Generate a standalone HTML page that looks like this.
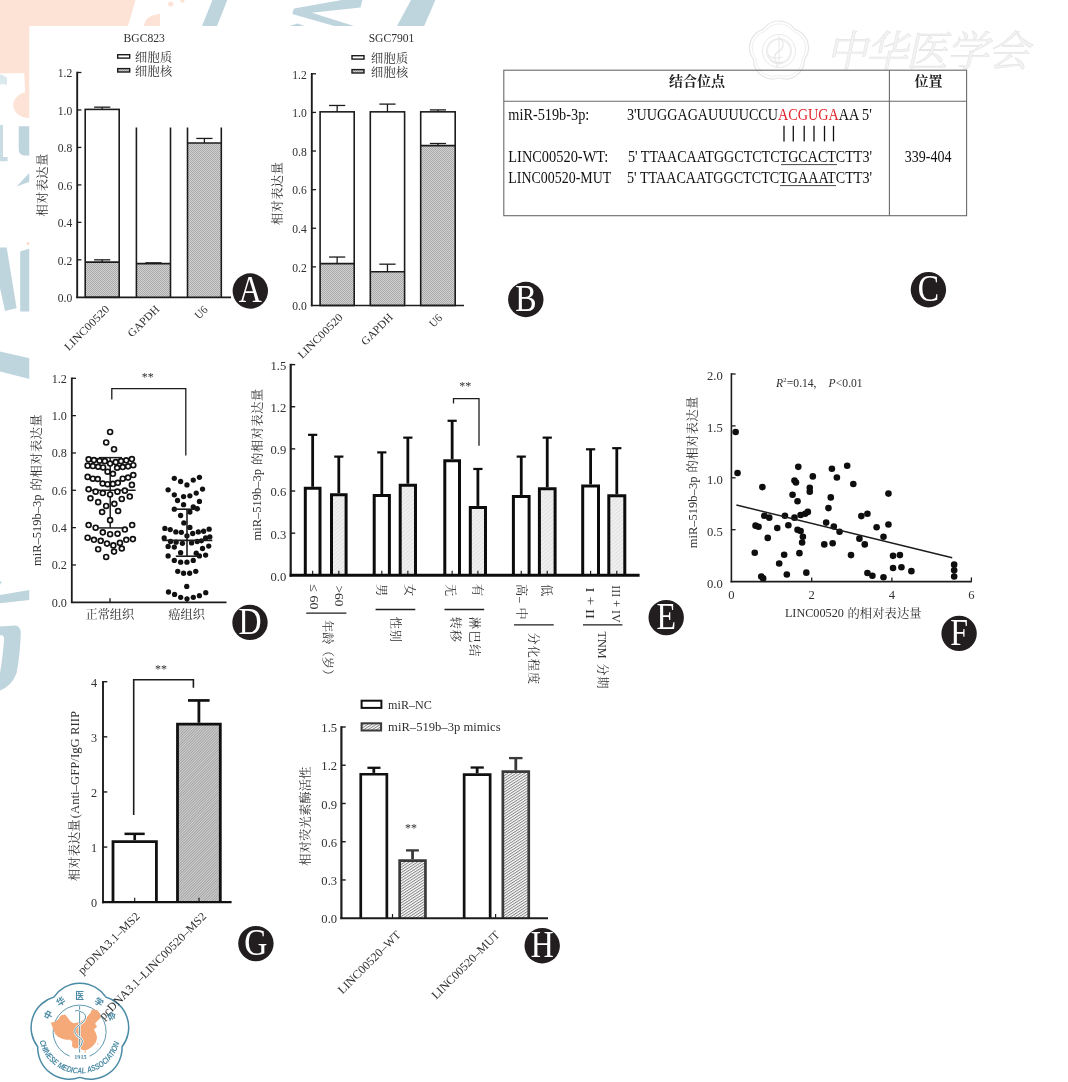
<!DOCTYPE html>
<html><head><meta charset="utf-8"><title>Figure</title>
<style>html,body{margin:0;padding:0;background:#fff;}svg{display:block;font-family:"Liberation Serif",serif;will-change:transform;}.cj{font-family:"Liberation Serif","Noto Serif CJK SC",serif;}.cjs{font-family:"Liberation Sans","Noto Sans CJK SC",sans-serif;}</style>
</head><body>
<svg width="1068" height="1082" viewBox="0 0 1068 1082">
<defs>
<pattern id="dots" width="2" height="2" patternUnits="userSpaceOnUse"><rect width="2" height="2" fill="#d2d2d2"/><rect width="1" height="1" fill="#a9a9a9"/><rect x="1" y="1" width="1" height="1" fill="#a9a9a9"/></pattern>
<pattern id="lhatch" width="3" height="3" patternUnits="userSpaceOnUse" patternTransform="rotate(-40)"><rect width="3" height="3" fill="#efefef"/><rect width="3" height="1" fill="#e2e2e2"/></pattern>
<pattern id="ghatch" width="1.9" height="1.9" patternUnits="userSpaceOnUse" patternTransform="rotate(-45)"><rect width="1.9" height="1.9" fill="#d0d0d0"/><rect width="1.9" height="0.9" fill="#a2a2a2"/></pattern>
<pattern id="hhatch" width="2.3" height="2.3" patternUnits="userSpaceOnUse" patternTransform="rotate(-33)"><rect width="2.3" height="2.3" fill="#fff"/><rect width="2.3" height="1" fill="#858585"/></pattern>
</defs>
<polygon points="0,0 135.6,0 128,26 29.5,26 29.5,92 25,92 24.3,73 0,73.6" fill="#fce3d5"/>
<path d="M29.5,91.4 C20,92 13.2,98 13.2,105 C13.2,112 20,118 29.5,118 Z" fill="#fce3d5"/>
<path d="M144,26 Q145,15 160,14 L160,26 Z" fill="#fce3d5"/>
<circle cx="170.8" cy="4" r="2.6" fill="#fce3d5"/>
<circle cx="182.4" cy="0.5" r="2.2" fill="#fce3d5"/>
<circle cx="28" cy="243.5" r="1.4" fill="#fbd9c5"/>
<polygon points="212.4,0 227.3,0 217,26 202,26" fill="#bfd5de"/>
<polygon points="341.8,0 362.4,0 360.5,7.5 311.8,12.7 354,26 334.3,26 292.2,14 294,8.4" fill="#bfd5de"/>
<polygon points="289.4,26 304.3,26 297.8,23.4" fill="#bfd5de"/>
<polygon points="411,0 435.4,0 424.2,26 397,26" fill="#bfd5de"/>
<path d="M0,74.5 Q5,75.5 7,78 L7,85 Q4,84 0,84.5 Z" fill="#dbe8ee"/>
<polygon points="0,125 3,125 3,157 7.6,157 7.6,161.2 0,161.2" fill="#c9dbe3"/>
<path d="M18.7,126.3 L29.5,126.3 L29.5,155.4 L24,155.4 Q18.7,155 18.7,149 Z" fill="#bfd5de"/>
<polygon points="29.5,172.7 29.5,181.8 16.6,186.6" fill="#bfd5de"/>
<polygon points="0,247.5 6.7,247.5 16.6,308.2 5,311 0,288" fill="#bfd5de"/>
<polygon points="20.2,251.5 29.5,248.5 29.5,311.5 20.2,311.5" fill="#bfd5de"/>
<polygon points="0,351.4 29.5,358.2 29.5,379 0,371.4" fill="#bfd5de"/>
<polygon points="0,595 29.5,590 29.5,600 0,603.3" fill="#bfd5de"/>
<polygon points="0,581 1.6,582 0,585" fill="#bfd5de"/>
<path d="M0,626.4 L15.8,625.6 Q21,627 20.8,634 Q20,655 16.6,673 Q12,686 0,690.4 L0,673 Q3,655 4,640 Q4.6,634.6 0,635.5 Z" fill="#bfd5de"/>
<rect x="29.5" y="26" width="1040" height="1060" fill="#fff"/>
<path d="M763.27,29.35 A19,19 0 0 1 794.73,29.35 A19,19 0 0 1 804.46,59.27 A19,19 0 0 1 779,77.77 A19,19 0 0 1 753.54,59.27 A19,19 0 0 1 763.27,29.35Z" fill="none" stroke="#e6e6e6" stroke-width="1.2"/>
<path d="M764.74,31.38 A17.2,17.2 0 0 1 793.26,31.38 A17.2,17.2 0 0 1 802.07,58.5 A17.2,17.2 0 0 1 779,75.25 A17.2,17.2 0 0 1 755.93,58.5 A17.2,17.2 0 0 1 764.74,31.38Z" fill="none" stroke="#eeeeee" stroke-width="1"/>
<circle cx="779" cy="51" r="16.5" fill="none" stroke="#e6e6e6" stroke-width="0.9"/>
<circle cx="779" cy="51" r="12" fill="none" stroke="#eeeeee" stroke-width="2.2"/>
<path d="M779,38 q5,2.5 4,8 q-1,4 -6,6.5 q-4,3.5 -1.5,8 q2.5,3 1,7" fill="none" stroke="#e6e6e6" stroke-width="1.1"/>
<line x1="779" y1="36" x2="779" y2="66" stroke="#e6e6e6" stroke-width="0.9"/>
<path d="M768,55 q6,5 14,2 M771,61 q5,4 12,2" fill="none" stroke="#e6e6e6" stroke-width="1"/>
<text class="cj" transform="translate(826,66) skewX(-12)" x="0" y="0" font-size="42" fill="#f3f3f3" stroke="#e4e4e4" stroke-width="0.6">中</text>
<text class="cj" transform="translate(866,66) skewX(-12)" x="0" y="0" font-size="42" fill="#f3f3f3" stroke="#e4e4e4" stroke-width="0.6">华</text>
<text class="cj" transform="translate(906,66) skewX(-12)" x="0" y="0" font-size="42" fill="#f3f3f3" stroke="#e4e4e4" stroke-width="0.6">医</text>
<text class="cj" transform="translate(947,66) skewX(-12)" x="0" y="0" font-size="42" fill="#f3f3f3" stroke="#e4e4e4" stroke-width="0.6">学</text>
<text class="cj" transform="translate(988,66) skewX(-12)" x="0" y="0" font-size="42" fill="#f3f3f3" stroke="#e4e4e4" stroke-width="0.6">会</text>
<path d="M53.83,997.12 A31.5,31.5 0 0 1 105.97,997.12 A31.5,31.5 0 0 1 122.08,1046.71 A31.5,31.5 0 0 1 79.9,1077.35 A31.5,31.5 0 0 1 37.72,1046.71 A31.5,31.5 0 0 1 53.83,997.12Z" fill="#fff" stroke="#4c8ba5" stroke-width="1.5"/>
<path d="M89.53,1056.17 A26.5,26.5 0 1 0 69.67,1056.17" fill="none" stroke="#4c8ba5" stroke-width="0.9"/>
<polygon points="50.75,1022.8 54.87,1021.77 58.99,1018.68 60.53,1015.59 65.17,1014.56 67.74,1017.65 70.32,1021.26 73.41,1023.32 78.56,1022.29 82.68,1020.23 86.8,1017.14 90.92,1011.99 91.95,1009.41 97.1,1009.93 100.19,1014.05 100.7,1017.65 97.1,1021.26 95.04,1023.83 97.1,1026.41 94.01,1029.5 96.07,1033.62 97.1,1037.74 96.07,1041.86 92.98,1045.98 88.86,1049.07 85.77,1050.61 82.68,1050.1 80.62,1049.07 77.53,1048.04 74.44,1048.55 71.86,1045.98 72.38,1041.86 70.32,1039.8 66.2,1039.8 62.08,1038.77 57.96,1036.71 54.87,1033.62 53.32,1029.5 52.29,1026.41" fill="#f6a978"/>
<circle cx="85.25" cy="1051.95" r="0.8" fill="#f6a978"/>
<circle cx="97.82" cy="1043.92" r="0.7" fill="#f6a978"/>
<line x1="79.6" y1="1005.8" x2="79.6" y2="1052.5" stroke="#fff" stroke-width="2.2"/>
<line x1="79.6" y1="1005.8" x2="79.6" y2="1052.5" stroke="#4c8ba5" stroke-width="0.9"/>
<path d="M80.1,1011.5 q-2,-2 -5,-0.5 M80.1,1011.5 q6,1.5 5.5,6.5 q-0.8,4 -6.5,7 q-5.5,3.5 -4,8 q1.5,3.5 5.5,5 q3.2,2.2 1.2,6 q-1.5,2.5 -2.8,4.5" fill="none" stroke="#fff" stroke-width="2"/>
<path d="M80.1,1011.5 q-2,-2 -5,-0.5 M80.1,1011.5 q6,1.5 5.5,6.5 q-0.8,4 -6.5,7 q-5.5,3.5 -4,8 q1.5,3.5 5.5,5 q3.2,2.2 1.2,6 q-1.5,2.5 -2.8,4.5" fill="none" stroke="#4c8ba5" stroke-width="0.9"/>
<text x="80.4" y="1058.6" font-size="6.2" fill="#4c8ba5" text-anchor="middle" font-weight="bold">1915</text>
<text class="cjs" transform="translate(48.17,1014.89) rotate(-62)" x="-4.4" y="3.3" font-size="8.8" font-weight="bold" fill="#4c8ba5">中</text>
<text class="cjs" transform="translate(60.73,1001.41) rotate(-32)" x="-4.4" y="3.3" font-size="8.8" font-weight="bold" fill="#4c8ba5">华</text>
<text class="cjs" transform="translate(79.6,996) rotate(0)" x="-4.4" y="3.3" font-size="8.8" font-weight="bold" fill="#4c8ba5">医</text>
<text class="cjs" transform="translate(98.99,1001.74) rotate(33)" x="-4.4" y="3.3" font-size="8.8" font-weight="bold" fill="#4c8ba5">学</text>
<text class="cjs" transform="translate(111.6,1015.99) rotate(64)" x="-4.4" y="3.3" font-size="8.8" font-weight="bold" fill="#4c8ba5">会</text>
<path id="lgarc" d="M39.5,1041.12 A41,41 0 0 0 119.55,1041.82" fill="none"/>
<text font-family="Liberation Sans" font-size="8.4" font-style="italic" font-weight="bold" fill="#4c8ba5" textLength="110" lengthAdjust="spacingAndGlyphs"><textPath href="#lgarc" startOffset="0">CHINESE  MEDICAL ASSOCIATION</textPath></text>
<rect x="85.2" y="262.08" width="34" height="35.22" fill="url(#dots)" stroke="none" stroke-width="0"/>
<rect x="85.2" y="109.4" width="34" height="187.9" fill="none" stroke="#1c1c1c" stroke-width="1.6"/>
<line x1="85.2" y1="262.08" x2="119.2" y2="262.08" stroke="#1c1c1c" stroke-width="1.6"/>
<line x1="102.2" y1="109.4" x2="102.2" y2="107.16" stroke="#1c1c1c" stroke-width="1.3"/>
<line x1="94.1" y1="107.16" x2="110.3" y2="107.16" stroke="#1c1c1c" stroke-width="1.3"/>
<line x1="102.2" y1="262.08" x2="102.2" y2="259.83" stroke="#1c1c1c" stroke-width="1.3"/>
<line x1="94.1" y1="259.83" x2="110.3" y2="259.83" stroke="#1c1c1c" stroke-width="1.3"/>
<rect x="136.4" y="263.58" width="34.1" height="33.72" fill="url(#dots)" stroke="none" stroke-width="0"/>
<line x1="136.4" y1="127.5" x2="136.4" y2="297.3" stroke="#1c1c1c" stroke-width="1.6"/>
<line x1="170.5" y1="127.5" x2="170.5" y2="297.3" stroke="#1c1c1c" stroke-width="1.6"/>
<line x1="136.4" y1="263.58" x2="170.5" y2="263.58" stroke="#1c1c1c" stroke-width="1.6"/>
<line x1="153.45" y1="263.58" x2="153.45" y2="262.83" stroke="#1c1c1c" stroke-width="1.3"/>
<line x1="145.35" y1="262.83" x2="161.55" y2="262.83" stroke="#1c1c1c" stroke-width="1.3"/>
<rect x="187.5" y="142.94" width="33.8" height="154.36" fill="url(#dots)" stroke="none" stroke-width="0"/>
<line x1="187.5" y1="127.5" x2="187.5" y2="297.3" stroke="#1c1c1c" stroke-width="1.6"/>
<line x1="221.3" y1="127.5" x2="221.3" y2="297.3" stroke="#1c1c1c" stroke-width="1.6"/>
<line x1="187.5" y1="142.94" x2="221.3" y2="142.94" stroke="#1c1c1c" stroke-width="1.6"/>
<line x1="204.4" y1="142.94" x2="204.4" y2="138.44" stroke="#1c1c1c" stroke-width="1.3"/>
<line x1="196.3" y1="138.44" x2="212.5" y2="138.44" stroke="#1c1c1c" stroke-width="1.3"/>
<line x1="77.2" y1="71.7" x2="77.2" y2="298.1" stroke="#1c1c1c" stroke-width="1.9"/>
<line x1="76.3" y1="297.3" x2="231" y2="297.3" stroke="#1c1c1c" stroke-width="1.7"/>
<line x1="77.2" y1="259.83" x2="81.4" y2="259.83" stroke="#1c1c1c" stroke-width="1.3"/>
<line x1="77.2" y1="222.37" x2="81.4" y2="222.37" stroke="#1c1c1c" stroke-width="1.3"/>
<line x1="77.2" y1="184.9" x2="81.4" y2="184.9" stroke="#1c1c1c" stroke-width="1.3"/>
<line x1="77.2" y1="147.43" x2="81.4" y2="147.43" stroke="#1c1c1c" stroke-width="1.3"/>
<line x1="77.2" y1="109.97" x2="81.4" y2="109.97" stroke="#1c1c1c" stroke-width="1.3"/>
<line x1="77.2" y1="72.5" x2="81.4" y2="72.5" stroke="#1c1c1c" stroke-width="1.3"/>
<text x="72.2" y="302" font-size="11.6" fill="#303030" text-anchor="end">0.0</text>
<text x="72.2" y="264.53" font-size="11.6" fill="#303030" text-anchor="end">0.2</text>
<text x="72.2" y="227.07" font-size="11.6" fill="#303030" text-anchor="end">0.4</text>
<text x="72.2" y="189.6" font-size="11.6" fill="#303030" text-anchor="end">0.6</text>
<text x="72.2" y="152.13" font-size="11.6" fill="#303030" text-anchor="end">0.8</text>
<text x="72.2" y="114.67" font-size="11.6" fill="#303030" text-anchor="end">1.0</text>
<text x="72.2" y="77.2" font-size="11.6" fill="#303030" text-anchor="end">1.2</text>
<text x="144.2" y="41.6" font-size="11.6" fill="#303030" text-anchor="middle">BGC823</text>
<rect x="117.7" y="54.7" width="12" height="3.4" fill="#fff" stroke="#1c1c1c" stroke-width="1.4"/>
<rect x="117.7" y="68.6" width="12" height="3.4" fill="url(#dots)" stroke="#1c1c1c" stroke-width="1.4"/>
<text class="cj" x="135" y="61.5" font-size="12.2" letter-spacing="0.3" fill="#303030">细胞质</text>
<text class="cj" x="135" y="75.9" font-size="12.2" letter-spacing="0.3" fill="#303030">细胞核</text>
<g transform="translate(47.2,216.5) rotate(-90)"><text class="cj" x="0" y="0" font-size="12.3" letter-spacing="0.3" fill="#303030">相对表达量</text></g>
<text x="0" y="0" transform="translate(110,309.8) rotate(-45)" font-size="11.2" fill="#303030" text-anchor="end" textLength="58.5" lengthAdjust="spacingAndGlyphs">LINC00520</text>
<text x="0" y="0" transform="translate(160,309.8) rotate(-45)" font-size="11.2" fill="#303030" text-anchor="end" textLength="39.5" lengthAdjust="spacingAndGlyphs">GAPDH</text>
<text x="0" y="0" transform="translate(208.5,310.3) rotate(-45)" font-size="11.2" fill="#303030" text-anchor="end" textLength="13.5" lengthAdjust="spacingAndGlyphs">U6</text>
<circle cx="250.3" cy="291" r="17.7" fill="#221e1f"/>
<text x="0" y="0" transform="translate(250.3,302.4) scale(0.83,1)" font-size="38.5" fill="#fff" text-anchor="middle">A</text>
<rect x="320.1" y="263.6" width="34.1" height="41.9" fill="url(#dots)" stroke="none" stroke-width="0"/>
<rect x="320.1" y="111.84" width="34.1" height="193.66" fill="none" stroke="#1c1c1c" stroke-width="1.6"/>
<line x1="320.1" y1="263.6" x2="354.2" y2="263.6" stroke="#1c1c1c" stroke-width="1.6"/>
<line x1="337.15" y1="111.84" x2="337.15" y2="105.47" stroke="#1c1c1c" stroke-width="1.3"/>
<line x1="329.05" y1="105.47" x2="345.25" y2="105.47" stroke="#1c1c1c" stroke-width="1.3"/>
<line x1="337.15" y1="263.6" x2="337.15" y2="257.04" stroke="#1c1c1c" stroke-width="1.3"/>
<line x1="329.05" y1="257.04" x2="345.25" y2="257.04" stroke="#1c1c1c" stroke-width="1.3"/>
<rect x="370.3" y="271.71" width="34.3" height="33.79" fill="url(#dots)" stroke="none" stroke-width="0"/>
<rect x="370.3" y="111.84" width="34.3" height="193.66" fill="none" stroke="#1c1c1c" stroke-width="1.6"/>
<line x1="370.3" y1="271.71" x2="404.6" y2="271.71" stroke="#1c1c1c" stroke-width="1.6"/>
<line x1="387.45" y1="111.84" x2="387.45" y2="104.11" stroke="#1c1c1c" stroke-width="1.3"/>
<line x1="379.35" y1="104.11" x2="395.55" y2="104.11" stroke="#1c1c1c" stroke-width="1.3"/>
<line x1="387.45" y1="271.71" x2="387.45" y2="264.18" stroke="#1c1c1c" stroke-width="1.3"/>
<line x1="379.35" y1="264.18" x2="395.55" y2="264.18" stroke="#1c1c1c" stroke-width="1.3"/>
<rect x="420.7" y="145.63" width="34.5" height="159.87" fill="url(#dots)" stroke="none" stroke-width="0"/>
<rect x="420.7" y="111.84" width="34.5" height="193.66" fill="none" stroke="#1c1c1c" stroke-width="1.6"/>
<line x1="420.7" y1="145.63" x2="455.2" y2="145.63" stroke="#1c1c1c" stroke-width="1.6"/>
<line x1="437.95" y1="111.84" x2="437.95" y2="109.91" stroke="#1c1c1c" stroke-width="1.3"/>
<line x1="429.85" y1="109.91" x2="446.05" y2="109.91" stroke="#1c1c1c" stroke-width="1.3"/>
<line x1="437.95" y1="145.63" x2="437.95" y2="143.5" stroke="#1c1c1c" stroke-width="1.3"/>
<line x1="429.85" y1="143.5" x2="446.05" y2="143.5" stroke="#1c1c1c" stroke-width="1.3"/>
<line x1="311.8" y1="73" x2="311.8" y2="306.3" stroke="#1c1c1c" stroke-width="1.9"/>
<line x1="310.9" y1="305.5" x2="464" y2="305.5" stroke="#1c1c1c" stroke-width="1.7"/>
<line x1="311.8" y1="266.88" x2="316" y2="266.88" stroke="#1c1c1c" stroke-width="1.3"/>
<line x1="311.8" y1="228.27" x2="316" y2="228.27" stroke="#1c1c1c" stroke-width="1.3"/>
<line x1="311.8" y1="189.65" x2="316" y2="189.65" stroke="#1c1c1c" stroke-width="1.3"/>
<line x1="311.8" y1="151.03" x2="316" y2="151.03" stroke="#1c1c1c" stroke-width="1.3"/>
<line x1="311.8" y1="112.42" x2="316" y2="112.42" stroke="#1c1c1c" stroke-width="1.3"/>
<line x1="311.8" y1="73.8" x2="316" y2="73.8" stroke="#1c1c1c" stroke-width="1.3"/>
<text x="306.8" y="310.2" font-size="11.6" fill="#303030" text-anchor="end">0.0</text>
<text x="306.8" y="271.58" font-size="11.6" fill="#303030" text-anchor="end">0.2</text>
<text x="306.8" y="232.97" font-size="11.6" fill="#303030" text-anchor="end">0.4</text>
<text x="306.8" y="194.35" font-size="11.6" fill="#303030" text-anchor="end">0.6</text>
<text x="306.8" y="155.73" font-size="11.6" fill="#303030" text-anchor="end">0.8</text>
<text x="306.8" y="117.12" font-size="11.6" fill="#303030" text-anchor="end">1.0</text>
<text x="306.8" y="78.5" font-size="11.6" fill="#303030" text-anchor="end">1.2</text>
<text x="391.5" y="41.6" font-size="11.6" fill="#303030" text-anchor="middle">SGC7901</text>
<rect x="352" y="55.7" width="12" height="3.4" fill="#fff" stroke="#1c1c1c" stroke-width="1.4"/>
<rect x="352" y="69.6" width="12" height="3.4" fill="url(#dots)" stroke="#1c1c1c" stroke-width="1.4"/>
<text class="cj" x="371" y="62.5" font-size="12.2" letter-spacing="0.3" fill="#303030">细胞质</text>
<text class="cj" x="371" y="76.9" font-size="12.2" letter-spacing="0.3" fill="#303030">细胞核</text>
<g transform="translate(282.2,225) rotate(-90)"><text class="cj" x="0" y="0" font-size="12.3" letter-spacing="0.3" fill="#303030">相对表达量</text></g>
<text x="0" y="0" transform="translate(343.5,318) rotate(-45)" font-size="11.2" fill="#303030" text-anchor="end" textLength="58.5" lengthAdjust="spacingAndGlyphs">LINC00520</text>
<text x="0" y="0" transform="translate(393.5,318) rotate(-45)" font-size="11.2" fill="#303030" text-anchor="end" textLength="39.5" lengthAdjust="spacingAndGlyphs">GAPDH</text>
<text x="0" y="0" transform="translate(443,318.5) rotate(-45)" font-size="11.2" fill="#303030" text-anchor="end" textLength="13.5" lengthAdjust="spacingAndGlyphs">U6</text>
<circle cx="525.8" cy="299.5" r="17.7" fill="#221e1f"/>
<text x="0" y="0" transform="translate(525.8,310.9) scale(0.83,1)" font-size="38.5" fill="#fff" text-anchor="middle">B</text>
<rect x="503.8" y="70.2" width="462.8" height="145.5" fill="none" stroke="#6a6a6a" stroke-width="1.1"/>
<line x1="503.8" y1="101.3" x2="966.6" y2="101.3" stroke="#6a6a6a" stroke-width="1.1"/>
<line x1="889.4" y1="70.2" x2="889.4" y2="215.7" stroke="#6a6a6a" stroke-width="1.1"/>
<text class="cj" x="668.9" y="86" font-size="14" font-weight="bold" fill="#222">结合位点</text>
<text class="cj" x="914.5" y="86" font-size="14" font-weight="bold" fill="#222">位置</text>
<text x="508.3" y="119.5" font-size="16.6" fill="#111" textLength="81" lengthAdjust="spacingAndGlyphs">miR-519b-3p:</text>
<text x="508.3" y="162.1" font-size="16.6" fill="#111" textLength="100" lengthAdjust="spacingAndGlyphs">LINC00520-WT:</text>
<text x="508.3" y="182.8" font-size="16.6" fill="#111" textLength="103" lengthAdjust="spacingAndGlyphs">LINC00520-MUT</text>
<text x="627" y="119.5" font-size="16.6" fill="#111" textLength="151" lengthAdjust="spacingAndGlyphs">3'UUGGAGAUUUUCCU</text>
<text x="778" y="119.5" font-size="16.6" fill="#e0242b" textLength="60.8" lengthAdjust="spacingAndGlyphs">ACGUGA</text>
<text x="838.8" y="119.5" font-size="16.6" fill="#111" textLength="33" lengthAdjust="spacingAndGlyphs">AA 5'</text>
<text x="628" y="162.1" font-size="16.6" fill="#111" textLength="244" lengthAdjust="spacingAndGlyphs">5' TTAACAATGGCTCTCTGCACTCTT3'</text>
<text x="627" y="182.8" font-size="16.6" fill="#111" textLength="245" lengthAdjust="spacingAndGlyphs">5' TTAACAATGGCTCTCTGAAATCTT3'</text>
<line x1="784" y1="125.8" x2="784" y2="141.4" stroke="#111" stroke-width="1.3"/>
<line x1="793.3" y1="125.8" x2="793.3" y2="141.4" stroke="#111" stroke-width="1.3"/>
<line x1="804.2" y1="125.8" x2="804.2" y2="141.4" stroke="#111" stroke-width="1.3"/>
<line x1="814" y1="125.8" x2="814" y2="141.4" stroke="#111" stroke-width="1.3"/>
<line x1="824.5" y1="125.8" x2="824.5" y2="141.4" stroke="#111" stroke-width="1.3"/>
<line x1="833.5" y1="125.8" x2="833.5" y2="141.4" stroke="#111" stroke-width="1.3"/>
<line x1="781" y1="164.6" x2="837" y2="164.6" stroke="#333" stroke-width="0.9"/>
<line x1="780" y1="185.6" x2="836" y2="185.6" stroke="#333" stroke-width="0.9"/>
<text x="904.8" y="162.1" font-size="16.6" fill="#111" textLength="46.7" lengthAdjust="spacingAndGlyphs">339-404</text>
<circle cx="928.4" cy="289.7" r="17.7" fill="#221e1f"/>
<text x="0" y="0" transform="translate(928.4,301.1) scale(0.83,1)" font-size="38.5" fill="#fff" text-anchor="middle">C</text>
<line x1="110.2" y1="457.63" x2="110.2" y2="527.63" stroke="#1c1c1c" stroke-width="1.5"/>
<line x1="85.7" y1="490.3" x2="135.6" y2="490.3" stroke="#1c1c1c" stroke-width="1.5"/>
<line x1="99" y1="527.93" x2="122" y2="527.93" stroke="#1c1c1c" stroke-width="1.5"/>
<line x1="99" y1="457.63" x2="122" y2="457.63" stroke="#1c1c1c" stroke-width="1.5"/>
<circle cx="110.11" cy="431.94" r="2.45" fill="#fff" stroke="#111" stroke-width="1.7"/>
<circle cx="106.18" cy="442.47" r="2.45" fill="#fff" stroke="#111" stroke-width="1.7"/>
<circle cx="114.04" cy="449.21" r="2.45" fill="#fff" stroke="#111" stroke-width="1.7"/>
<circle cx="88.62" cy="459.33" r="2.45" fill="#fff" stroke="#111" stroke-width="1.7"/>
<circle cx="93.96" cy="460.03" r="2.45" fill="#fff" stroke="#111" stroke-width="1.7"/>
<circle cx="99.58" cy="460.73" r="2.45" fill="#fff" stroke="#111" stroke-width="1.7"/>
<circle cx="104.78" cy="461.15" r="2.45" fill="#fff" stroke="#111" stroke-width="1.7"/>
<circle cx="110.11" cy="463.54" r="2.45" fill="#fff" stroke="#111" stroke-width="1.7"/>
<circle cx="115.73" cy="462.13" r="2.45" fill="#fff" stroke="#111" stroke-width="1.7"/>
<circle cx="121.07" cy="461.15" r="2.45" fill="#fff" stroke="#111" stroke-width="1.7"/>
<circle cx="126.26" cy="460.31" r="2.45" fill="#fff" stroke="#111" stroke-width="1.7"/>
<circle cx="131.88" cy="459.04" r="2.45" fill="#fff" stroke="#111" stroke-width="1.7"/>
<circle cx="87.64" cy="465.65" r="2.45" fill="#fff" stroke="#111" stroke-width="1.7"/>
<circle cx="92.84" cy="466.07" r="2.45" fill="#fff" stroke="#111" stroke-width="1.7"/>
<circle cx="98.17" cy="466.77" r="2.45" fill="#fff" stroke="#111" stroke-width="1.7"/>
<circle cx="103.09" cy="467.47" r="2.45" fill="#fff" stroke="#111" stroke-width="1.7"/>
<circle cx="117.13" cy="467.75" r="2.45" fill="#fff" stroke="#111" stroke-width="1.7"/>
<circle cx="122.75" cy="467.05" r="2.45" fill="#fff" stroke="#111" stroke-width="1.7"/>
<circle cx="128.09" cy="466.35" r="2.45" fill="#fff" stroke="#111" stroke-width="1.7"/>
<circle cx="133.29" cy="465.22" r="2.45" fill="#fff" stroke="#111" stroke-width="1.7"/>
<circle cx="107.58" cy="471.69" r="2.45" fill="#fff" stroke="#111" stroke-width="1.7"/>
<circle cx="112.92" cy="473.79" r="2.45" fill="#fff" stroke="#111" stroke-width="1.7"/>
<circle cx="87.64" cy="476.88" r="2.45" fill="#fff" stroke="#111" stroke-width="1.7"/>
<circle cx="92.84" cy="478.71" r="2.45" fill="#fff" stroke="#111" stroke-width="1.7"/>
<circle cx="97.75" cy="478.99" r="2.45" fill="#fff" stroke="#111" stroke-width="1.7"/>
<circle cx="102.67" cy="483.48" r="2.45" fill="#fff" stroke="#111" stroke-width="1.7"/>
<circle cx="107.58" cy="484.19" r="2.45" fill="#fff" stroke="#111" stroke-width="1.7"/>
<circle cx="112.92" cy="483.9" r="2.45" fill="#fff" stroke="#111" stroke-width="1.7"/>
<circle cx="117.84" cy="482.78" r="2.45" fill="#fff" stroke="#111" stroke-width="1.7"/>
<circle cx="122.75" cy="478.71" r="2.45" fill="#fff" stroke="#111" stroke-width="1.7"/>
<circle cx="128.09" cy="477.58" r="2.45" fill="#fff" stroke="#111" stroke-width="1.7"/>
<circle cx="133.29" cy="475.06" r="2.45" fill="#fff" stroke="#111" stroke-width="1.7"/>
<circle cx="131.88" cy="484.89" r="2.45" fill="#fff" stroke="#111" stroke-width="1.7"/>
<circle cx="88.62" cy="489.24" r="2.45" fill="#fff" stroke="#111" stroke-width="1.7"/>
<circle cx="95.65" cy="491.63" r="2.45" fill="#fff" stroke="#111" stroke-width="1.7"/>
<circle cx="102.81" cy="493.03" r="2.45" fill="#fff" stroke="#111" stroke-width="1.7"/>
<circle cx="110.11" cy="494.44" r="2.45" fill="#fff" stroke="#111" stroke-width="1.7"/>
<circle cx="117.42" cy="491.63" r="2.45" fill="#fff" stroke="#111" stroke-width="1.7"/>
<circle cx="124.86" cy="490.65" r="2.45" fill="#fff" stroke="#111" stroke-width="1.7"/>
<circle cx="90.45" cy="498.23" r="2.45" fill="#fff" stroke="#111" stroke-width="1.7"/>
<circle cx="98.17" cy="502.16" r="2.45" fill="#fff" stroke="#111" stroke-width="1.7"/>
<circle cx="106.18" cy="505.96" r="2.45" fill="#fff" stroke="#111" stroke-width="1.7"/>
<circle cx="114.33" cy="503.85" r="2.45" fill="#fff" stroke="#111" stroke-width="1.7"/>
<circle cx="121.77" cy="498.93" r="2.45" fill="#fff" stroke="#111" stroke-width="1.7"/>
<circle cx="129.78" cy="496.54" r="2.45" fill="#fff" stroke="#111" stroke-width="1.7"/>
<circle cx="102.11" cy="511.99" r="2.45" fill="#fff" stroke="#111" stroke-width="1.7"/>
<circle cx="118.12" cy="511.01" r="2.45" fill="#fff" stroke="#111" stroke-width="1.7"/>
<circle cx="110.11" cy="520.14" r="2.45" fill="#fff" stroke="#111" stroke-width="1.7"/>
<circle cx="88.62" cy="525.06" r="2.45" fill="#fff" stroke="#111" stroke-width="1.7"/>
<circle cx="95.65" cy="527.72" r="2.45" fill="#fff" stroke="#111" stroke-width="1.7"/>
<circle cx="124.86" cy="529.55" r="2.45" fill="#fff" stroke="#111" stroke-width="1.7"/>
<circle cx="132.16" cy="525.06" r="2.45" fill="#fff" stroke="#111" stroke-width="1.7"/>
<circle cx="102.81" cy="532.36" r="2.45" fill="#fff" stroke="#111" stroke-width="1.7"/>
<circle cx="110.11" cy="534.19" r="2.45" fill="#fff" stroke="#111" stroke-width="1.7"/>
<circle cx="117.56" cy="533.76" r="2.45" fill="#fff" stroke="#111" stroke-width="1.7"/>
<circle cx="87.64" cy="537.7" r="2.45" fill="#fff" stroke="#111" stroke-width="1.7"/>
<circle cx="93.96" cy="539.8" r="2.45" fill="#fff" stroke="#111" stroke-width="1.7"/>
<circle cx="100.7" cy="540.79" r="2.45" fill="#fff" stroke="#111" stroke-width="1.7"/>
<circle cx="107.02" cy="543.6" r="2.45" fill="#fff" stroke="#111" stroke-width="1.7"/>
<circle cx="113.34" cy="545.42" r="2.45" fill="#fff" stroke="#111" stroke-width="1.7"/>
<circle cx="119.94" cy="542.89" r="2.45" fill="#fff" stroke="#111" stroke-width="1.7"/>
<circle cx="126.26" cy="539.8" r="2.45" fill="#fff" stroke="#111" stroke-width="1.7"/>
<circle cx="132.87" cy="539.1" r="2.45" fill="#fff" stroke="#111" stroke-width="1.7"/>
<circle cx="98.17" cy="549.21" r="2.45" fill="#fff" stroke="#111" stroke-width="1.7"/>
<circle cx="114.04" cy="551.6" r="2.45" fill="#fff" stroke="#111" stroke-width="1.7"/>
<circle cx="121.77" cy="548.51" r="2.45" fill="#fff" stroke="#111" stroke-width="1.7"/>
<circle cx="106.18" cy="556.94" r="2.45" fill="#fff" stroke="#111" stroke-width="1.7"/>
<circle cx="174.3" cy="478.29" r="2.65" fill="#111"/>
<circle cx="180.62" cy="481.52" r="2.65" fill="#111"/>
<circle cx="186.94" cy="484.89" r="2.65" fill="#111"/>
<circle cx="193.26" cy="480.11" r="2.65" fill="#111"/>
<circle cx="199.44" cy="477.3" r="2.65" fill="#111"/>
<circle cx="168.12" cy="489.8" r="2.65" fill="#111"/>
<circle cx="202.53" cy="489.1" r="2.65" fill="#111"/>
<circle cx="174.3" cy="494.86" r="2.65" fill="#111"/>
<circle cx="183.57" cy="496.54" r="2.65" fill="#111"/>
<circle cx="189.89" cy="495.84" r="2.65" fill="#111"/>
<circle cx="196.21" cy="493.03" r="2.65" fill="#111"/>
<circle cx="177.53" cy="500.48" r="2.65" fill="#111"/>
<circle cx="199.44" cy="501.46" r="2.65" fill="#111"/>
<circle cx="183.57" cy="504.69" r="2.65" fill="#111"/>
<circle cx="174.3" cy="509.19" r="2.65" fill="#111"/>
<circle cx="193.26" cy="506.8" r="2.65" fill="#111"/>
<circle cx="197.19" cy="508.76" r="2.65" fill="#111"/>
<circle cx="189.89" cy="511.99" r="2.65" fill="#111"/>
<circle cx="180.62" cy="515.51" r="2.65" fill="#111"/>
<circle cx="183.85" cy="522.95" r="2.65" fill="#111"/>
<circle cx="189.89" cy="527.44" r="2.65" fill="#111"/>
<circle cx="164.89" cy="528.43" r="2.65" fill="#111"/>
<circle cx="170.22" cy="529.55" r="2.65" fill="#111"/>
<circle cx="175.84" cy="531.94" r="2.65" fill="#111"/>
<circle cx="181.32" cy="532.36" r="2.65" fill="#111"/>
<circle cx="192.7" cy="533.48" r="2.65" fill="#111"/>
<circle cx="198.31" cy="531.94" r="2.65" fill="#111"/>
<circle cx="203.65" cy="531.24" r="2.65" fill="#111"/>
<circle cx="209.13" cy="529.13" r="2.65" fill="#111"/>
<circle cx="186.94" cy="535.87" r="2.65" fill="#111"/>
<circle cx="164.19" cy="537.98" r="2.65" fill="#111"/>
<circle cx="209.83" cy="536.85" r="2.65" fill="#111"/>
<circle cx="205.62" cy="537.98" r="2.65" fill="#111"/>
<circle cx="170.51" cy="541.49" r="2.65" fill="#111"/>
<circle cx="176.12" cy="542.19" r="2.65" fill="#111"/>
<circle cx="182.44" cy="543.31" r="2.65" fill="#111"/>
<circle cx="191.57" cy="542.89" r="2.65" fill="#111"/>
<circle cx="197.19" cy="541.49" r="2.65" fill="#111"/>
<circle cx="201.4" cy="540.79" r="2.65" fill="#111"/>
<circle cx="168.12" cy="546.4" r="2.65" fill="#111"/>
<circle cx="174.3" cy="547.11" r="2.65" fill="#111"/>
<circle cx="202.53" cy="548.51" r="2.65" fill="#111"/>
<circle cx="208.71" cy="546.12" r="2.65" fill="#111"/>
<circle cx="168.12" cy="555.96" r="2.65" fill="#111"/>
<circle cx="180.62" cy="552.72" r="2.65" fill="#111"/>
<circle cx="196.21" cy="553.15" r="2.65" fill="#111"/>
<circle cx="199.44" cy="555.96" r="2.65" fill="#111"/>
<circle cx="205.62" cy="555.11" r="2.65" fill="#111"/>
<circle cx="174.3" cy="560.45" r="2.65" fill="#111"/>
<circle cx="180.62" cy="562.13" r="2.65" fill="#111"/>
<circle cx="186.94" cy="562.13" r="2.65" fill="#111"/>
<circle cx="193.26" cy="560.45" r="2.65" fill="#111"/>
<circle cx="177.74" cy="571.29" r="2.65" fill="#111"/>
<circle cx="183.58" cy="573.23" r="2.65" fill="#111"/>
<circle cx="189.67" cy="573.23" r="2.65" fill="#111"/>
<circle cx="195.75" cy="571.29" r="2.65" fill="#111"/>
<circle cx="186.75" cy="586.38" r="2.65" fill="#111"/>
<circle cx="168.49" cy="591.98" r="2.65" fill="#111"/>
<circle cx="174.58" cy="594.41" r="2.65" fill="#111"/>
<circle cx="180.66" cy="597.33" r="2.65" fill="#111"/>
<circle cx="186.99" cy="598.79" r="2.65" fill="#111"/>
<circle cx="193.32" cy="597.33" r="2.65" fill="#111"/>
<circle cx="199.41" cy="595.63" r="2.65" fill="#111"/>
<circle cx="205.74" cy="592.71" r="2.65" fill="#111"/>
<line x1="187" y1="509.2" x2="187" y2="556.2" stroke="#1c1c1c" stroke-width="1.6"/>
<line x1="162.4" y1="540.4" x2="212.3" y2="540.4" stroke="#1c1c1c" stroke-width="1.6"/>
<line x1="172.9" y1="509.2" x2="200.1" y2="509.2" stroke="#1c1c1c" stroke-width="1.6"/>
<line x1="175.8" y1="556.2" x2="199" y2="556.2" stroke="#1c1c1c" stroke-width="1.6"/>
<line x1="71.8" y1="377.5" x2="71.8" y2="603.1" stroke="#1c1c1c" stroke-width="1.8"/>
<line x1="70.9" y1="602.3" x2="226.5" y2="602.3" stroke="#1c1c1c" stroke-width="1.7"/>
<line x1="71.8" y1="564.97" x2="76" y2="564.97" stroke="#1c1c1c" stroke-width="1.3"/>
<line x1="71.8" y1="527.63" x2="76" y2="527.63" stroke="#1c1c1c" stroke-width="1.3"/>
<line x1="71.8" y1="490.3" x2="76" y2="490.3" stroke="#1c1c1c" stroke-width="1.3"/>
<line x1="71.8" y1="452.97" x2="76" y2="452.97" stroke="#1c1c1c" stroke-width="1.3"/>
<line x1="71.8" y1="415.63" x2="76" y2="415.63" stroke="#1c1c1c" stroke-width="1.3"/>
<line x1="71.8" y1="378.3" x2="76" y2="378.3" stroke="#1c1c1c" stroke-width="1.3"/>
<line x1="110" y1="602.3" x2="110" y2="598.3" stroke="#1c1c1c" stroke-width="1.3"/>
<line x1="187" y1="602.3" x2="187" y2="598.3" stroke="#1c1c1c" stroke-width="1.3"/>
<text x="66.9" y="606.8" font-size="12.2" fill="#303030" text-anchor="end">0.0</text>
<text x="66.9" y="569.47" font-size="12.2" fill="#303030" text-anchor="end">0.2</text>
<text x="66.9" y="532.13" font-size="12.2" fill="#303030" text-anchor="end">0.4</text>
<text x="66.9" y="494.8" font-size="12.2" fill="#303030" text-anchor="end">0.6</text>
<text x="66.9" y="457.47" font-size="12.2" fill="#303030" text-anchor="end">0.8</text>
<text x="66.9" y="420.13" font-size="12.2" fill="#303030" text-anchor="end">1.0</text>
<text x="66.9" y="382.8" font-size="12.2" fill="#303030" text-anchor="end">1.2</text>
<path d="M111.8,399.4 L111.8,388.7 L185.8,388.7 L185.8,455.4" fill="none" stroke="#1c1c1c" stroke-width="1.3"/>
<text x="147.8" y="380.5" font-size="12" fill="#303030" text-anchor="middle">**</text>
<text class="cj" x="85.5" y="618.8" font-size="12.2" fill="#303030">正常组织</text>
<text class="cj" x="168.3" y="618.8" font-size="12.2" fill="#303030">癌组织</text>
<g transform="translate(40.6,566) rotate(-90)">
<text x="0" y="0" font-size="12.5" fill="#303030" textLength="71.6" lengthAdjust="spacingAndGlyphs">miR–519b–3p</text>
<text class="cj" x="75.6" y="0.5" font-size="12.4" letter-spacing="0.35" fill="#303030">的相对表达量</text>
</g>
<circle cx="250" cy="622.4" r="17.7" fill="#221e1f"/>
<text x="0" y="0" transform="translate(250,633.8) scale(0.83,1)" font-size="38.5" fill="#fff" text-anchor="middle">D</text>
<rect x="305.3" y="488.31" width="14.7" height="86.99" fill="#fff"/>
<path d="M305.3,575.3 L305.3,488.31 L320,488.31 L320,575.3" fill="none" stroke="#0c0c0c" stroke-width="3"/>
<line x1="312.65" y1="486.81" x2="312.65" y2="434.83" stroke="#0c0c0c" stroke-width="2.8"/>
<line x1="308.05" y1="434.83" x2="317.25" y2="434.83" stroke="#0c0c0c" stroke-width="2.2"/>
<line x1="312.65" y1="575.3" x2="312.65" y2="570.8" stroke="#1c1c1c" stroke-width="1.2"/>
<rect x="331.5" y="494.63" width="14.6" height="80.67" fill="url(#lhatch)"/>
<path d="M331.5,575.3 L331.5,494.63 L346.1,494.63 L346.1,575.3" fill="none" stroke="#0c0c0c" stroke-width="3"/>
<line x1="338.8" y1="493.13" x2="338.8" y2="456.61" stroke="#0c0c0c" stroke-width="2.8"/>
<line x1="334.2" y1="456.61" x2="343.4" y2="456.61" stroke="#0c0c0c" stroke-width="2.2"/>
<line x1="338.8" y1="575.3" x2="338.8" y2="570.8" stroke="#1c1c1c" stroke-width="1.2"/>
<rect x="374.2" y="495.61" width="15.2" height="79.69" fill="#fff"/>
<path d="M374.2,575.3 L374.2,495.61 L389.4,495.61 L389.4,575.3" fill="none" stroke="#0c0c0c" stroke-width="3"/>
<line x1="381.8" y1="494.11" x2="381.8" y2="452.39" stroke="#0c0c0c" stroke-width="2.8"/>
<line x1="377.2" y1="452.39" x2="386.4" y2="452.39" stroke="#0c0c0c" stroke-width="2.2"/>
<line x1="381.8" y1="575.3" x2="381.8" y2="570.8" stroke="#1c1c1c" stroke-width="1.2"/>
<rect x="400.2" y="485.22" width="15.3" height="90.08" fill="url(#lhatch)"/>
<path d="M400.2,575.3 L400.2,485.22 L415.5,485.22 L415.5,575.3" fill="none" stroke="#0c0c0c" stroke-width="3"/>
<line x1="407.85" y1="483.72" x2="407.85" y2="437.64" stroke="#0c0c0c" stroke-width="2.8"/>
<line x1="403.25" y1="437.64" x2="412.45" y2="437.64" stroke="#0c0c0c" stroke-width="2.2"/>
<line x1="407.85" y1="575.3" x2="407.85" y2="570.8" stroke="#1c1c1c" stroke-width="1.2"/>
<rect x="444.8" y="460.63" width="14.7" height="114.67" fill="#fff"/>
<path d="M444.8,575.3 L444.8,460.63 L459.5,460.63 L459.5,575.3" fill="none" stroke="#0c0c0c" stroke-width="3"/>
<line x1="452.15" y1="459.13" x2="452.15" y2="420.79" stroke="#0c0c0c" stroke-width="2.8"/>
<line x1="447.55" y1="420.79" x2="456.75" y2="420.79" stroke="#0c0c0c" stroke-width="2.2"/>
<line x1="452.15" y1="575.3" x2="452.15" y2="570.8" stroke="#1c1c1c" stroke-width="1.2"/>
<rect x="470.3" y="507.41" width="15.2" height="67.89" fill="url(#lhatch)"/>
<path d="M470.3,575.3 L470.3,507.41 L485.5,507.41 L485.5,575.3" fill="none" stroke="#0c0c0c" stroke-width="3"/>
<line x1="477.9" y1="505.91" x2="477.9" y2="468.97" stroke="#0c0c0c" stroke-width="2.8"/>
<line x1="473.3" y1="468.97" x2="482.5" y2="468.97" stroke="#0c0c0c" stroke-width="2.2"/>
<line x1="477.9" y1="575.3" x2="477.9" y2="570.8" stroke="#1c1c1c" stroke-width="1.2"/>
<rect x="513.4" y="496.45" width="15.7" height="78.85" fill="#fff"/>
<path d="M513.4,575.3 L513.4,496.45 L529.1,496.45 L529.1,575.3" fill="none" stroke="#0c0c0c" stroke-width="3"/>
<line x1="521.25" y1="494.95" x2="521.25" y2="456.61" stroke="#0c0c0c" stroke-width="2.8"/>
<line x1="516.65" y1="456.61" x2="525.85" y2="456.61" stroke="#0c0c0c" stroke-width="2.2"/>
<line x1="521.25" y1="575.3" x2="521.25" y2="570.8" stroke="#1c1c1c" stroke-width="1.2"/>
<rect x="539.4" y="488.73" width="15.7" height="86.57" fill="url(#lhatch)"/>
<path d="M539.4,575.3 L539.4,488.73 L555.1,488.73 L555.1,575.3" fill="none" stroke="#0c0c0c" stroke-width="3"/>
<line x1="547.25" y1="487.23" x2="547.25" y2="437.64" stroke="#0c0c0c" stroke-width="2.8"/>
<line x1="542.65" y1="437.64" x2="551.85" y2="437.64" stroke="#0c0c0c" stroke-width="2.2"/>
<line x1="547.25" y1="575.3" x2="547.25" y2="570.8" stroke="#1c1c1c" stroke-width="1.2"/>
<rect x="582.7" y="485.92" width="15.8" height="89.38" fill="#fff"/>
<path d="M582.7,575.3 L582.7,485.92 L598.5,485.92 L598.5,575.3" fill="none" stroke="#0c0c0c" stroke-width="3"/>
<line x1="590.6" y1="484.42" x2="590.6" y2="449.3" stroke="#0c0c0c" stroke-width="2.8"/>
<line x1="586" y1="449.3" x2="595.2" y2="449.3" stroke="#0c0c0c" stroke-width="2.2"/>
<line x1="590.6" y1="575.3" x2="590.6" y2="570.8" stroke="#1c1c1c" stroke-width="1.2"/>
<rect x="608.8" y="495.75" width="16" height="79.55" fill="url(#lhatch)"/>
<path d="M608.8,575.3 L608.8,495.75 L624.8,495.75 L624.8,575.3" fill="none" stroke="#0c0c0c" stroke-width="3"/>
<line x1="616.8" y1="494.25" x2="616.8" y2="448.18" stroke="#0c0c0c" stroke-width="2.8"/>
<line x1="612.2" y1="448.18" x2="621.4" y2="448.18" stroke="#0c0c0c" stroke-width="2.2"/>
<line x1="616.8" y1="575.3" x2="616.8" y2="570.8" stroke="#1c1c1c" stroke-width="1.2"/>
<line x1="290.7" y1="363.8" x2="290.7" y2="576.7" stroke="#1c1c1c" stroke-width="2.2"/>
<line x1="289.6" y1="575.3" x2="639.6" y2="575.3" stroke="#0c0c0c" stroke-width="3"/>
<line x1="290.7" y1="533.16" x2="295.2" y2="533.16" stroke="#1c1c1c" stroke-width="1.4"/>
<line x1="290.7" y1="491.02" x2="295.2" y2="491.02" stroke="#1c1c1c" stroke-width="1.4"/>
<line x1="290.7" y1="448.88" x2="295.2" y2="448.88" stroke="#1c1c1c" stroke-width="1.4"/>
<line x1="290.7" y1="406.74" x2="295.2" y2="406.74" stroke="#1c1c1c" stroke-width="1.4"/>
<line x1="290.7" y1="364.6" x2="295.2" y2="364.6" stroke="#1c1c1c" stroke-width="1.4"/>
<text x="286.3" y="580.7" font-size="12.6" fill="#303030" text-anchor="end">0.0</text>
<text x="286.3" y="538.56" font-size="12.6" fill="#303030" text-anchor="end">0.3</text>
<text x="286.3" y="496.42" font-size="12.6" fill="#303030" text-anchor="end">0.6</text>
<text x="286.3" y="454.28" font-size="12.6" fill="#303030" text-anchor="end">0.9</text>
<text x="286.3" y="412.14" font-size="12.6" fill="#303030" text-anchor="end">1.2</text>
<text x="286.3" y="370" font-size="12.6" fill="#303030" text-anchor="end">1.5</text>
<path d="M453.5,403.6 L453.5,398.7 L479,398.7 L479,445.7" fill="none" stroke="#1c1c1c" stroke-width="1.3"/>
<text x="465.2" y="389.5" font-size="12" fill="#303030" text-anchor="middle">**</text>
<g transform="translate(261.3,540.5) rotate(-90)">
<text x="0" y="0" font-size="12.5" fill="#303030" textLength="71.6" lengthAdjust="spacingAndGlyphs">miR–519b–3p</text>
<text class="cj" x="75.6" y="0.5" font-size="12.4" letter-spacing="0.35" fill="#303030">的相对表达量</text>
</g>
<text x="0" y="0" transform="translate(309.7,584.5) rotate(90)" font-size="12.4" fill="#303030" textLength="25" lengthAdjust="spacingAndGlyphs">≤ 60</text>
<text x="0" y="0" transform="translate(334.9,585.5) rotate(90)" font-size="12.4" fill="#303030" textLength="21" lengthAdjust="spacingAndGlyphs">&gt;60</text>
<line x1="306.2" y1="613.2" x2="346.4" y2="613.2" stroke="#1c1c1c" stroke-width="1.3"/>
<g transform="translate(322.7,620) rotate(90)"><text class="cj" x="0" y="0" font-size="12.2" letter-spacing="0.1" fill="#303030">年龄（岁）</text></g>
<g transform="translate(376.9,584) rotate(90)"><text class="cj" x="0" y="0" font-size="12.2" fill="#303030">男</text></g>
<g transform="translate(404.9,584) rotate(90)"><text class="cj" x="0" y="0" font-size="12.2" fill="#303030">女</text></g>
<line x1="375.6" y1="609.5" x2="415.3" y2="609.5" stroke="#1c1c1c" stroke-width="1.3"/>
<g transform="translate(390.7,616.8) rotate(90)"><text class="cj" x="0" y="0" font-size="12.2" letter-spacing="0.8" fill="#303030">性别</text></g>
<g transform="translate(446.3,584) rotate(90)"><text class="cj" x="0" y="0" font-size="12.2" fill="#303030">无</text></g>
<g transform="translate(473,584) rotate(90)"><text class="cj" x="0" y="0" font-size="12.2" fill="#303030">有</text></g>
<line x1="444.5" y1="609.5" x2="484.2" y2="609.5" stroke="#1c1c1c" stroke-width="1.3"/>
<g transform="translate(451.1,616.8) rotate(90)"><text class="cj" x="0" y="0" font-size="12.2" letter-spacing="0.8" fill="#303030">转移</text></g>
<g transform="translate(469.9,616.8) rotate(90)"><text class="cj" x="0" y="0" font-size="12.2" letter-spacing="1.5" fill="#303030">淋巴结</text></g>
<g transform="translate(516.6,584) rotate(90)"><text class="cj" x="0" y="0" font-size="12.2" fill="#303030">高</text></g>
<text x="0" y="0" transform="translate(517,597) rotate(90)" font-size="11.6" fill="#303030">–</text>
<g transform="translate(516.6,607.5) rotate(90)"><text class="cj" x="0" y="0" font-size="12.2" fill="#303030">中</text></g>
<g transform="translate(542.1,584) rotate(90)"><text class="cj" x="0" y="0" font-size="12.2" fill="#303030">低</text></g>
<line x1="514" y1="624.9" x2="553.7" y2="624.9" stroke="#1c1c1c" stroke-width="1.3"/>
<g transform="translate(528.7,632.5) rotate(90)"><text class="cj" x="0" y="0" font-size="12.2" letter-spacing="1" fill="#303030">分化程度</text></g>
<text x="0" y="0" transform="translate(586.1,587.6) rotate(90)" font-size="12.4" fill="#303030" textLength="31.5" lengthAdjust="spacingAndGlyphs">I + II</text>
<text x="0" y="0" transform="translate(611.7,585.2) rotate(90)" font-size="12.4" fill="#303030" textLength="37.5" lengthAdjust="spacingAndGlyphs">III + IV</text>
<line x1="583" y1="624.9" x2="622.4" y2="624.9" stroke="#1c1c1c" stroke-width="1.3"/>
<text x="0" y="0" transform="translate(598.3,631.5) rotate(90)" font-size="12.4" fill="#303030" textLength="27" lengthAdjust="spacingAndGlyphs">TNM</text>
<g transform="translate(598.1,663.5) rotate(90)"><text class="cj" x="0" y="0" font-size="12.2" letter-spacing="0.6" fill="#303030">分期</text></g>
<circle cx="666.2" cy="617.6" r="17.7" fill="#221e1f"/>
<text x="0" y="0" transform="translate(666.2,629) scale(0.83,1)" font-size="38.5" fill="#fff" text-anchor="middle">E</text>
<circle cx="735.64" cy="432.07" r="3.3" fill="#0e0e0e"/>
<circle cx="737.55" cy="472.95" r="3.3" fill="#0e0e0e"/>
<circle cx="762.38" cy="487.08" r="3.3" fill="#0e0e0e"/>
<circle cx="798.29" cy="466.83" r="3.3" fill="#0e0e0e"/>
<circle cx="794.47" cy="480.59" r="3.3" fill="#0e0e0e"/>
<circle cx="796" cy="482.5" r="3.3" fill="#0e0e0e"/>
<circle cx="812.81" cy="476.38" r="3.3" fill="#0e0e0e"/>
<circle cx="792.56" cy="494.72" r="3.3" fill="#0e0e0e"/>
<circle cx="797.53" cy="501.22" r="3.3" fill="#0e0e0e"/>
<circle cx="809.76" cy="487.85" r="3.3" fill="#0e0e0e"/>
<circle cx="809.76" cy="491.67" r="3.3" fill="#0e0e0e"/>
<circle cx="831.91" cy="468.74" r="3.3" fill="#0e0e0e"/>
<circle cx="836.88" cy="477.53" r="3.3" fill="#0e0e0e"/>
<circle cx="847.19" cy="465.69" r="3.3" fill="#0e0e0e"/>
<circle cx="853.31" cy="484.03" r="3.3" fill="#0e0e0e"/>
<circle cx="830.77" cy="497.4" r="3.3" fill="#0e0e0e"/>
<circle cx="828.47" cy="508.09" r="3.3" fill="#0e0e0e"/>
<circle cx="888.45" cy="493.58" r="3.3" fill="#0e0e0e"/>
<circle cx="764.29" cy="515.73" r="3.3" fill="#0e0e0e"/>
<circle cx="769.26" cy="517.64" r="3.3" fill="#0e0e0e"/>
<circle cx="784.92" cy="515.73" r="3.3" fill="#0e0e0e"/>
<circle cx="794.47" cy="517.64" r="3.3" fill="#0e0e0e"/>
<circle cx="800.59" cy="514.97" r="3.3" fill="#0e0e0e"/>
<circle cx="807.85" cy="511.91" r="3.3" fill="#0e0e0e"/>
<circle cx="805.17" cy="513.82" r="3.3" fill="#0e0e0e"/>
<circle cx="755.51" cy="525.67" r="3.3" fill="#0e0e0e"/>
<circle cx="758.56" cy="526.81" r="3.3" fill="#0e0e0e"/>
<circle cx="777.28" cy="527.96" r="3.3" fill="#0e0e0e"/>
<circle cx="788.36" cy="525.28" r="3.3" fill="#0e0e0e"/>
<circle cx="797.53" cy="529.87" r="3.3" fill="#0e0e0e"/>
<circle cx="800.59" cy="531.01" r="3.3" fill="#0e0e0e"/>
<circle cx="802.88" cy="536.75" r="3.3" fill="#0e0e0e"/>
<circle cx="802.11" cy="542.48" r="3.3" fill="#0e0e0e"/>
<circle cx="767.73" cy="537.89" r="3.3" fill="#0e0e0e"/>
<circle cx="826.18" cy="522.61" r="3.3" fill="#0e0e0e"/>
<circle cx="833.82" cy="526.43" r="3.3" fill="#0e0e0e"/>
<circle cx="839.55" cy="531.78" r="3.3" fill="#0e0e0e"/>
<circle cx="861.33" cy="516.12" r="3.3" fill="#0e0e0e"/>
<circle cx="867.44" cy="513.82" r="3.3" fill="#0e0e0e"/>
<circle cx="876.61" cy="527.19" r="3.3" fill="#0e0e0e"/>
<circle cx="883.49" cy="536.75" r="3.3" fill="#0e0e0e"/>
<circle cx="888.45" cy="524.52" r="3.3" fill="#0e0e0e"/>
<circle cx="859.42" cy="538.66" r="3.3" fill="#0e0e0e"/>
<circle cx="864.77" cy="544.39" r="3.3" fill="#0e0e0e"/>
<circle cx="824.27" cy="544.39" r="3.3" fill="#0e0e0e"/>
<circle cx="832.68" cy="543.24" r="3.3" fill="#0e0e0e"/>
<circle cx="754.74" cy="552.79" r="3.3" fill="#0e0e0e"/>
<circle cx="784.16" cy="554.7" r="3.3" fill="#0e0e0e"/>
<circle cx="799.44" cy="553.17" r="3.3" fill="#0e0e0e"/>
<circle cx="779.19" cy="563.49" r="3.3" fill="#0e0e0e"/>
<circle cx="851.01" cy="555.08" r="3.3" fill="#0e0e0e"/>
<circle cx="893.04" cy="555.85" r="3.3" fill="#0e0e0e"/>
<circle cx="899.91" cy="555.08" r="3.3" fill="#0e0e0e"/>
<circle cx="893.04" cy="568.07" r="3.3" fill="#0e0e0e"/>
<circle cx="901.44" cy="567.31" r="3.3" fill="#0e0e0e"/>
<circle cx="911.38" cy="571.13" r="3.3" fill="#0e0e0e"/>
<circle cx="867.44" cy="573.04" r="3.3" fill="#0e0e0e"/>
<circle cx="872.41" cy="575.71" r="3.3" fill="#0e0e0e"/>
<circle cx="883.49" cy="577.24" r="3.3" fill="#0e0e0e"/>
<circle cx="806.32" cy="572.66" r="3.3" fill="#0e0e0e"/>
<circle cx="786.83" cy="574.57" r="3.3" fill="#0e0e0e"/>
<circle cx="761.24" cy="576.48" r="3.3" fill="#0e0e0e"/>
<circle cx="763.15" cy="578.39" r="3.3" fill="#0e0e0e"/>
<circle cx="954.16" cy="564.63" r="3.3" fill="#0e0e0e"/>
<circle cx="954.16" cy="570.36" r="3.3" fill="#0e0e0e"/>
<circle cx="954.16" cy="576.48" r="3.3" fill="#0e0e0e"/>
<line x1="736.4" y1="505" x2="952.2" y2="557.8" stroke="#1c1c1c" stroke-width="1.5"/>
<line x1="731.4" y1="373.2" x2="731.4" y2="582.4" stroke="#1c1c1c" stroke-width="1.6"/>
<line x1="730.6" y1="581.6" x2="971.8" y2="581.6" stroke="#1c1c1c" stroke-width="1.6"/>
<line x1="731.4" y1="529.7" x2="735.6" y2="529.7" stroke="#1c1c1c" stroke-width="1.3"/>
<line x1="731.4" y1="477.8" x2="735.6" y2="477.8" stroke="#1c1c1c" stroke-width="1.3"/>
<line x1="731.4" y1="425.9" x2="735.6" y2="425.9" stroke="#1c1c1c" stroke-width="1.3"/>
<line x1="731.4" y1="374" x2="735.6" y2="374" stroke="#1c1c1c" stroke-width="1.3"/>
<line x1="811.7" y1="581.6" x2="811.7" y2="577.4" stroke="#1c1c1c" stroke-width="1.3"/>
<line x1="891.9" y1="581.6" x2="891.9" y2="577.4" stroke="#1c1c1c" stroke-width="1.3"/>
<line x1="971.4" y1="581.6" x2="971.4" y2="577.4" stroke="#1c1c1c" stroke-width="1.3"/>
<text x="722.8" y="587.6" font-size="12.6" fill="#303030" text-anchor="end">0.0</text>
<text x="722.8" y="535.7" font-size="12.6" fill="#303030" text-anchor="end">0.5</text>
<text x="722.8" y="483.8" font-size="12.6" fill="#303030" text-anchor="end">1.0</text>
<text x="722.8" y="431.9" font-size="12.6" fill="#303030" text-anchor="end">1.5</text>
<text x="722.8" y="380" font-size="12.6" fill="#303030" text-anchor="end">2.0</text>
<text x="731.4" y="598.6" font-size="12.6" fill="#303030" text-anchor="middle">0</text>
<text x="811.7" y="598.6" font-size="12.6" fill="#303030" text-anchor="middle">2</text>
<text x="891.9" y="598.6" font-size="12.6" fill="#303030" text-anchor="middle">4</text>
<text x="971.4" y="598.6" font-size="12.6" fill="#303030" text-anchor="middle">6</text>
<text x="776" y="386.7" font-size="11.6" fill="#303030" font-style="italic">R</text>
<text x="783.3" y="382" font-size="6.5" fill="#303030">2</text>
<text x="786.8" y="386.7" font-size="11.6" fill="#303030">=0.14</text>
<text class="cj" x="813" y="386.7" font-size="11.6" fill="#303030">，</text>
<text x="828.5" y="386.7" font-size="11.6" fill="#303030" font-style="italic">P</text>
<text x="835.8" y="386.7" font-size="11.6" fill="#303030">&lt;0.01</text>
<text x="784.9" y="617.3" font-size="12.3" fill="#303030" textLength="59" lengthAdjust="spacingAndGlyphs">LINC00520</text>
<text class="cj" x="847.5" y="617.8" font-size="12.3" letter-spacing="0.05" fill="#303030">的相对表达量</text>
<g transform="translate(696.8,548.2) rotate(-90)">
<text x="0" y="0" font-size="12.5" fill="#303030" textLength="71.6" lengthAdjust="spacingAndGlyphs">miR–519b–3p</text>
<text class="cj" x="75.6" y="0.5" font-size="12.4" letter-spacing="0.35" fill="#303030">的相对表达量</text>
</g>
<circle cx="959.1" cy="633.4" r="17.7" fill="#221e1f"/>
<text x="0" y="0" transform="translate(959.1,644.8) scale(0.83,1)" font-size="38.5" fill="#fff" text-anchor="middle">F</text>
<rect x="113" y="841.58" width="43.4" height="60.62" fill="#fff"/>
<path d="M113,902.2 L113,841.58 L156.4,841.58 L156.4,902.2" fill="none" stroke="#111" stroke-width="2.8"/>
<line x1="134.7" y1="840.18" x2="134.7" y2="833.85" stroke="#111" stroke-width="2.7"/>
<line x1="124.5" y1="833.85" x2="144.7" y2="833.85" stroke="#111" stroke-width="2.5"/>
<rect x="177.5" y="724.17" width="42.8" height="178.03" fill="url(#ghatch)"/>
<path d="M177.5,902.2 L177.5,724.17 L220.3,724.17 L220.3,902.2" fill="none" stroke="#111" stroke-width="2.8"/>
<line x1="198.9" y1="722.77" x2="198.9" y2="700.44" stroke="#111" stroke-width="2.8"/>
<line x1="188" y1="700.44" x2="209.6" y2="700.44" stroke="#111" stroke-width="2.7"/>
<line x1="134.7" y1="902.2" x2="134.7" y2="897.7" stroke="#1c1c1c" stroke-width="1.2"/>
<line x1="199" y1="902.2" x2="199" y2="897.7" stroke="#1c1c1c" stroke-width="1.2"/>
<line x1="103" y1="680.9" x2="103" y2="903.3" stroke="#1c1c1c" stroke-width="1.9"/>
<line x1="102.1" y1="902.2" x2="231.6" y2="902.2" stroke="#111" stroke-width="2.3"/>
<line x1="103" y1="847.08" x2="107.3" y2="847.08" stroke="#1c1c1c" stroke-width="1.4"/>
<line x1="103" y1="791.95" x2="107.3" y2="791.95" stroke="#1c1c1c" stroke-width="1.4"/>
<line x1="103" y1="736.83" x2="107.3" y2="736.83" stroke="#1c1c1c" stroke-width="1.4"/>
<line x1="103" y1="681.7" x2="107.3" y2="681.7" stroke="#1c1c1c" stroke-width="1.4"/>
<text x="97.1" y="907.2" font-size="12.2" fill="#303030" text-anchor="end">0</text>
<text x="97.1" y="852.08" font-size="12.2" fill="#303030" text-anchor="end">1</text>
<text x="97.1" y="796.95" font-size="12.2" fill="#303030" text-anchor="end">2</text>
<text x="97.1" y="741.83" font-size="12.2" fill="#303030" text-anchor="end">3</text>
<text x="97.1" y="686.7" font-size="12.2" fill="#303030" text-anchor="end">4</text>
<path d="M133.7,815.1 L133.7,679.7 L193.4,679.7 L193.4,687.7" fill="none" stroke="#1c1c1c" stroke-width="1.6"/>
<text x="161" y="672.5" font-size="12" fill="#303030" text-anchor="middle">**</text>
<g transform="translate(78.7,881) rotate(-90)">
<text class="cj" x="0" y="0.5" font-size="12.3" fill="#303030">相对表达量</text>
<text x="62.7" y="0" font-size="12.6" fill="#303030" textLength="107.3" lengthAdjust="spacingAndGlyphs">(Anti–GFP/IgG RIIP</text>
</g>
<text x="0" y="0" transform="translate(140.5,917) rotate(-45)" font-size="11.8" fill="#303030" text-anchor="end" textLength="82" lengthAdjust="spacingAndGlyphs">pcDNA3.1–MS2</text>
<text x="0" y="0" transform="translate(207,917) rotate(-45)" font-size="11.8" fill="#303030" text-anchor="end" textLength="146" lengthAdjust="spacingAndGlyphs">pcDNA3.1–LINC00520–MS2</text>
<circle cx="255.9" cy="943.6" r="17.7" fill="#221e1f"/>
<text x="0" y="0" transform="translate(255.9,955) scale(0.83,1)" font-size="38.5" fill="#fff" text-anchor="middle">G</text>
<rect x="360.75" y="774.24" width="26.1" height="143.96" fill="#fff"/>
<path d="M360.75,918.2 L360.75,774.24 L386.85,774.24 L386.85,918.2" fill="none" stroke="#111" stroke-width="2.7"/>
<line x1="373.8" y1="772.89" x2="373.8" y2="767.79" stroke="#111" stroke-width="2.8"/>
<line x1="367.4" y1="767.79" x2="380.5" y2="767.79" stroke="#111" stroke-width="2.3"/>
<rect x="399.65" y="860.66" width="25.8" height="57.54" fill="url(#hhatch)"/>
<path d="M399.65,918.2 L399.65,860.66 L425.45,860.66 L425.45,918.2" fill="none" stroke="#3a3a3a" stroke-width="2.7"/>
<line x1="412.55" y1="859.31" x2="412.55" y2="850.39" stroke="#3a3a3a" stroke-width="2.8"/>
<line x1="406" y1="850.39" x2="418.9" y2="850.39" stroke="#3a3a3a" stroke-width="2.3"/>
<rect x="464.15" y="774.62" width="26" height="143.58" fill="#fff"/>
<path d="M464.15,918.2 L464.15,774.62 L490.15,774.62 L490.15,918.2" fill="none" stroke="#111" stroke-width="2.7"/>
<line x1="477.15" y1="773.27" x2="477.15" y2="767.53" stroke="#111" stroke-width="2.8"/>
<line x1="470.6" y1="767.53" x2="483.8" y2="767.53" stroke="#111" stroke-width="2.3"/>
<rect x="502.85" y="771.69" width="25.9" height="146.51" fill="url(#hhatch)"/>
<path d="M502.85,918.2 L502.85,771.69 L528.75,771.69 L528.75,918.2" fill="none" stroke="#3a3a3a" stroke-width="2.7"/>
<line x1="515.8" y1="770.34" x2="515.8" y2="758.1" stroke="#3a3a3a" stroke-width="2.8"/>
<line x1="509" y1="758.1" x2="522.5" y2="758.1" stroke="#3a3a3a" stroke-width="2.3"/>
<line x1="392.5" y1="918.2" x2="392.5" y2="914" stroke="#1c1c1c" stroke-width="1.2"/>
<line x1="495.6" y1="918.2" x2="495.6" y2="914" stroke="#1c1c1c" stroke-width="1.2"/>
<line x1="341.4" y1="726.2" x2="341.4" y2="919.1" stroke="#1c1c1c" stroke-width="2.2"/>
<line x1="340.3" y1="918.2" x2="548" y2="918.2" stroke="#1c1c1c" stroke-width="2"/>
<line x1="341.4" y1="879.96" x2="345.7" y2="879.96" stroke="#1c1c1c" stroke-width="1.4"/>
<line x1="341.4" y1="841.72" x2="345.7" y2="841.72" stroke="#1c1c1c" stroke-width="1.4"/>
<line x1="341.4" y1="803.48" x2="345.7" y2="803.48" stroke="#1c1c1c" stroke-width="1.4"/>
<line x1="341.4" y1="765.24" x2="345.7" y2="765.24" stroke="#1c1c1c" stroke-width="1.4"/>
<line x1="341.4" y1="727" x2="345.7" y2="727" stroke="#1c1c1c" stroke-width="1.4"/>
<text x="337.1" y="923.3" font-size="12.6" fill="#303030" text-anchor="end">0.0</text>
<text x="337.1" y="885.06" font-size="12.6" fill="#303030" text-anchor="end">0.3</text>
<text x="337.1" y="846.82" font-size="12.6" fill="#303030" text-anchor="end">0.6</text>
<text x="337.1" y="808.58" font-size="12.6" fill="#303030" text-anchor="end">0.9</text>
<text x="337.1" y="770.34" font-size="12.6" fill="#303030" text-anchor="end">1.2</text>
<text x="337.1" y="732.1" font-size="12.6" fill="#303030" text-anchor="end">1.5</text>
<text x="411" y="832" font-size="12" fill="#303030" text-anchor="middle">**</text>
<rect x="361.6" y="700.7" width="19.8" height="7.2" fill="#fff" stroke="#111" stroke-width="2"/>
<rect x="361.6" y="723.3" width="19.5" height="7.2" fill="url(#hhatch)" stroke="#3a3a3a" stroke-width="2"/>
<text x="388.1" y="708.7" font-size="12.4" fill="#303030" textLength="43.8" lengthAdjust="spacingAndGlyphs">miR–NC</text>
<text x="388.1" y="731.4" font-size="12.5" fill="#303030" textLength="112.5" lengthAdjust="spacingAndGlyphs">miR–519b–3p mimics</text>
<g transform="translate(310,865.7) rotate(-90)"><text class="cj" x="0" y="0" font-size="12.3" letter-spacing="0.1" fill="#303030">相对荧光素酶活性</text></g>
<text x="0" y="0" transform="translate(401.5,935.5) rotate(-45)" font-size="11.8" fill="#303030" text-anchor="end" textLength="83.5" lengthAdjust="spacingAndGlyphs">LINC00520–WT</text>
<text x="0" y="0" transform="translate(500.5,935.5) rotate(-45)" font-size="11.8" fill="#303030" text-anchor="end" textLength="91" lengthAdjust="spacingAndGlyphs">LINC00520–MUT</text>
<circle cx="542.2" cy="945.7" r="17.7" fill="#221e1f"/>
<text x="0" y="0" transform="translate(542.2,957.1) scale(0.83,1)" font-size="38.5" fill="#fff" text-anchor="middle">H</text>
</svg>
</body></html>
